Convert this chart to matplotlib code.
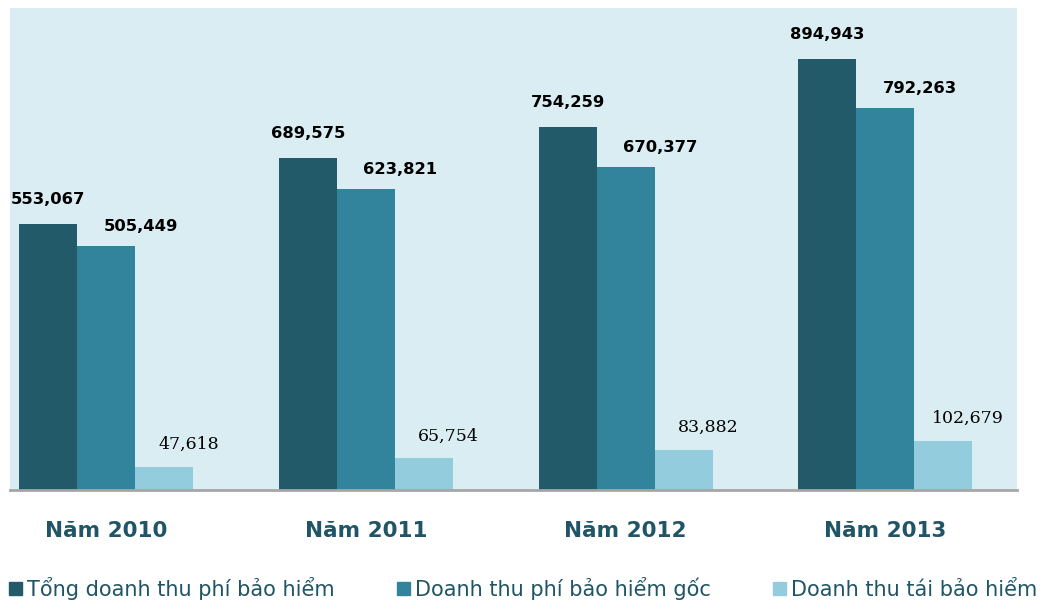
import numpy as np
import matplotlib.pyplot as plt
from matplotlib.patches import Patch

years = ['Năm 2010', 'Năm 2011', 'Năm 2012', 'Năm 2013']
tong = [553067, 689575, 754259, 894943]
goc = [505449, 623821, 670377, 792263]
tai = [47618, 65754, 83882, 102679]
series_names = ['Tổng doanh thu phí bảo hiểm', 'Doanh thu phí bảo hiểm gốc', 'Doanh thu tái bảo hiểm']

colors = ['#235a69', '#31849b', '#93cddd']
text_col = '#1f5566'

fig = plt.figure(figsize=(10.47, 6.02), dpi=100)
ax = fig.add_axes([0.0096, 0.186, 0.9617, 0.8004])
ax.set_facecolor('#daedf3')

x = np.arange(len(years)) * 4.48
w = 1.0

def fmt(v):
    return f'{v:,}'

ax.bar(x - w, tong, w, color=colors[0])
ax.bar(x, goc, w, color=colors[1])
ax.bar(x + w, tai, w, color=colors[2])

# value labels
for xi, v in zip(x - w, tong):
    ax.annotate(fmt(v), (xi, v), xytext=(0, 12), textcoords='offset points',
                ha='center', va='bottom', fontsize=11.8, fontweight='bold')
for xi, v in zip(x, goc):
    ax.annotate(fmt(v), (xi, v), xytext=(25, 9), textcoords='offset points',
                ha='center', va='bottom', fontsize=11.8, fontweight='bold')
for xi, v in zip(x + w, tai):
    ax.annotate(fmt(v), (xi, v), xytext=(18, 10), textcoords='offset points',
                ha='center', va='bottom', fontsize=12.5, family='DejaVu Serif')

ax.set_xlim(-1.655, 15.71)
ax.set_ylim(0, 1000000)
ax.set_xticks(x)
ax.set_xticklabels(years, fontsize=15.5, fontweight='bold', color=text_col)
ax.tick_params(axis='x', length=0, pad=22)
ax.set_yticks([])
for s in ['top', 'left', 'right']:
    ax.spines[s].set_visible(False)
ax.spines['bottom'].set_color('#a6a6a6')
ax.spines['bottom'].set_linewidth(2)

handles = [Patch(color=c) for c in colors]
fig.legend(handles, series_names, loc='lower left', bbox_to_anchor=(-0.009, -0.027),
           ncol=3, frameon=False, fontsize=15, labelcolor=text_col,
           handlelength=0.6, handleheight=0.6, handletextpad=0.25, columnspacing=3.0)

fig.savefig('out.png', dpi=100)
